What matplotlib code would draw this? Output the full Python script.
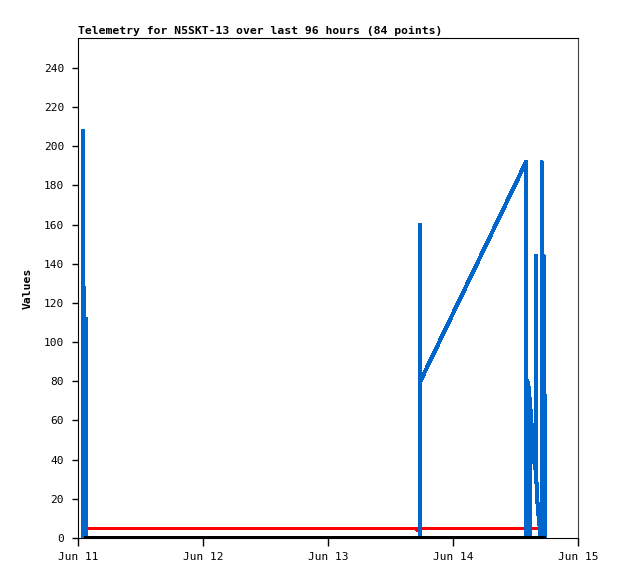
import numpy as np
import matplotlib
matplotlib.use("Agg")
import matplotlib.pyplot as plt
from datetime import datetime, timedelta

title = "Telemetry for N5SKT-13 over last 96 hours (84 points)"
start = datetime(2024, 6, 11)

# blue series: hours since Jun 11 00:00, values
blue_hours = [0.90, 0.92, 0.94, 1.19, 1.21, 1.23, 1.48, 1.50, 1.52, 1.60,
              65.64, 65.68, 65.72,
              86.02, 86.04, 86.28, 86.30, 86.32, 86.57, 86.59, 86.61,
              86.76, 86.78, 86.90, 87.17, 87.40, 87.74, 87.92, 87.94,
              87.96, 88.19, 88.38, 88.57, 88.80, 89.01, 89.03, 89.05,
              89.36, 89.38, 89.40, 89.55, 89.57, 89.59]
blue_vals = [0, 208, 0, 0, 128, 0, 0, 112, 0, 0,
             0, 160, 80,
             192, 0, 0, 80, 0, 0, 77, 0,
             0, 71, 64, 55, 45, 36, 34, 144,
             32, 19, 12.7, 7.6, 0, 0, 192, 0,
             0, 144, 0, 0, 73, 0]

red_hours = [1.54, 20.0, 40.0, 65.05, 65.10, 65.20, 65.25, 75.0, 88.90]
red_vals = [5, 5, 5, 5, 4, 4, 5, 5, 5]

black_hours = [1.54, 30.0, 60.0, 89.40]
black_vals = [0, 0, 0, 0]

ylim = (0, 255.3)
yticks = list(range(0, 241, 20))
xtick_labels = ["Jun 11", "Jun 12", "Jun 13", "Jun 14", "Jun 15"]

def to_dt(hours):
    return [start + timedelta(hours=h) for h in hours]

plt.rcParams['font.family'] = ['DejaVu Sans Mono']

fig = plt.figure(figsize=(6.18, 5.79), dpi=100)
ax = fig.add_axes([78/618, 41/579, 500/618, 500/579])

ax.plot(to_dt(red_hours), red_vals, color="#ff0000", lw=1.5, zorder=2,
        antialiased=False)
ax.plot(to_dt(blue_hours), blue_vals, color="#0066cc", lw=2.2, zorder=3,
        antialiased=False)
ax.plot(to_dt(black_hours), black_vals, color="#000000", lw=1.6, zorder=4,
        antialiased=False)

ax.set_ylim(*ylim)
ax.set_xlim(start, start + timedelta(hours=96))
ax.set_yticks(yticks)
ax.set_yticklabels([str(v) for v in yticks])
xt = [start + timedelta(days=i) for i in range(len(xtick_labels))]
ax.set_xticks(xt)
ax.set_xticklabels(xtick_labels)

ax.tick_params(axis='y', direction='out', length=4, width=1, labelsize=8, pad=6)
ax.tick_params(axis='x', direction='out', length=6, width=1, labelsize=8, pad=4)

for s in ax.spines.values():
    s.set_linewidth(0.8)
    s.set_color("#000000")
ax.spines['right'].set_color("#444444")

ax.set_ylabel("Values", fontsize=8.2, fontweight='bold', labelpad=8)
fig.text(78/618, 1 - 31/579, title, fontsize=8.2, fontweight='bold',
         ha='left', va='center')

fig.savefig("out.png", dpi=100)
